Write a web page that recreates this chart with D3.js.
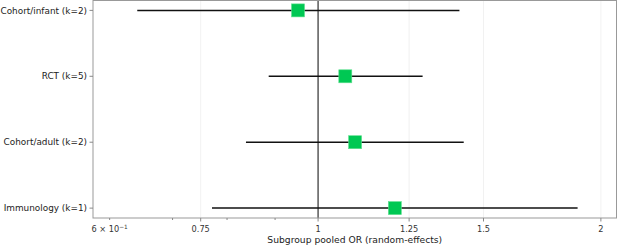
<!DOCTYPE html>
<html>
<head>
<meta charset="utf-8">
<script src="https://cdn.jsdelivr.net/npm/d3@7"></script>
<style>
  body { margin: 0; background: #fff; }
  svg { display: block; font-family: "DejaVu Sans", sans-serif; }
</style>
</head>
<body>
<div id="chart"></div>
<script>
// subgroup data
var groups = ["Cohort/infant (k=2)", "RCT (k=5)", "Cohort/adult (k=2)", "Immunology (k=1)"];
var pooledOR = [0.952, 1.069, 1.095, 1.207];
var lowerCI = [0.642, 0.886, 0.838, 0.771];
var upperCI = [1.414, 1.292, 1.429, 1.889];

var majorTicks = [0.75, 1, 1.25, 1.5, 2];
var minorTicks = [0.6, 0.7, 0.8, 0.9];
var xLimits = [0.576, 2.078];

var width = 618, height = 246;
var margin = {top: 0.5, right: 1.5, bottom: 28, left: 93};

var svg = d3.select("#chart").append("svg")
    .attr("width", width)
    .attr("height", height);

var x = d3.scaleLog()
    .domain(xLimits)
    .range([margin.left, width - margin.right]);

// categories at 0..n-1, with matplotlib-like 5% margins
var n = groups.length;
var y = d3.scaleLinear()
    .domain([-0.15, n - 1 + 0.15])
    .range([margin.top, height - margin.bottom]);

var plotBottom = height - margin.bottom;

// faint vertical grid
svg.append("g").selectAll("line").data(majorTicks).enter().append("line")
    .attr("x1", function(d){ return x(d); })
    .attr("x2", function(d){ return x(d); })
    .attr("y1", margin.top)
    .attr("y2", plotBottom)
    .attr("stroke", "#eee")
    .attr("stroke-width", 0.8);

// reference line at OR = 1
svg.append("line")
    .attr("x1", x(1)).attr("x2", x(1))
    .attr("y1", margin.top).attr("y2", plotBottom)
    .attr("stroke", "#333")
    .attr("stroke-width", 1.2);

// confidence intervals
svg.append("g").selectAll("line").data(groups).enter().append("line")
    .attr("x1", function(d, i){ return x(lowerCI[i]); })
    .attr("x2", function(d, i){ return x(upperCI[i]); })
    .attr("y1", function(d, i){ return y(i); })
    .attr("y2", function(d, i){ return y(i); })
    .attr("stroke", "#111")
    .attr("stroke-width", 1.5);

// pooled estimates
var sq = 13;
svg.append("g").selectAll("rect").data(groups).enter().append("rect")
    .attr("x", function(d, i){ return x(pooledOR[i]) - sq / 2; })
    .attr("y", function(d, i){ return y(i) - sq / 2; })
    .attr("width", sq)
    .attr("height", sq)
    .attr("fill", "#00c853")
    .attr("stroke", "#5fe08f")
    .attr("stroke-width", 0.6);

// spines
svg.append("rect")
    .attr("x", margin.left)
    .attr("y", margin.top)
    .attr("width", width - margin.right - margin.left)
    .attr("height", plotBottom - margin.top)
    .attr("fill", "none")
    .attr("stroke", "#999")
    .attr("stroke-width", 1);

// x axis ticks
var xg = svg.append("g");
xg.selectAll("line.major").data(majorTicks).enter().append("line")
    .attr("x1", function(d){ return x(d); })
    .attr("x2", function(d){ return x(d); })
    .attr("y1", plotBottom).attr("y2", plotBottom + 3.5)
    .attr("stroke", "#888");
xg.selectAll("line.minor").data(minorTicks).enter().append("line")
    .attr("x1", function(d){ return x(d); })
    .attr("x2", function(d){ return x(d); })
    .attr("y1", plotBottom).attr("y2", plotBottom + 2)
    .attr("stroke", "#888");

var fmt = function(d){ return d3.format("~g")(d); };
xg.selectAll("text.major").data(majorTicks).enter().append("text")
    .attr("x", function(d){ return x(d); })
    .attr("y", plotBottom + 13.5)
    .attr("text-anchor", "middle")
    .attr("font-size", "8.2px")
    .attr("fill", "#333")
    .text(fmt);

// minor label on the log axis, scientific notation
var sci = xg.append("text")
    .attr("x", x(0.6))
    .attr("y", plotBottom + 13.5)
    .attr("text-anchor", "middle")
    .attr("font-size", "8.2px")
    .attr("fill", "#333");
sci.append("tspan").text("6 \u00d7 10");
sci.append("tspan").attr("dy", -3).attr("font-size", "5.8px").text("\u22121");

// y axis ticks and labels
var yg = svg.append("g");
yg.selectAll("line").data(groups).enter().append("line")
    .attr("x1", margin.left - 3.5).attr("x2", margin.left)
    .attr("y1", function(d, i){ return y(i); })
    .attr("y2", function(d, i){ return y(i); })
    .attr("stroke", "#888");
yg.selectAll("text").data(groups).enter().append("text")
    .attr("x", margin.left - 6)
    .attr("y", function(d, i){ return y(i); })
    .attr("dy", "0.35em")
    .attr("text-anchor", "end")
    .attr("font-size", "8.9px")
    .attr("fill", "#222")
    .text(function(d){ return d; });

// axis label
svg.append("text")
    .attr("x", (margin.left + width - margin.right) / 2)
    .attr("y", height - 3.5)
    .attr("text-anchor", "middle")
    .attr("font-size", "9.2px")
    .attr("fill", "#222")
    .text("Subgroup pooled OR (random-effects)");
</script>
</body>
</html>
